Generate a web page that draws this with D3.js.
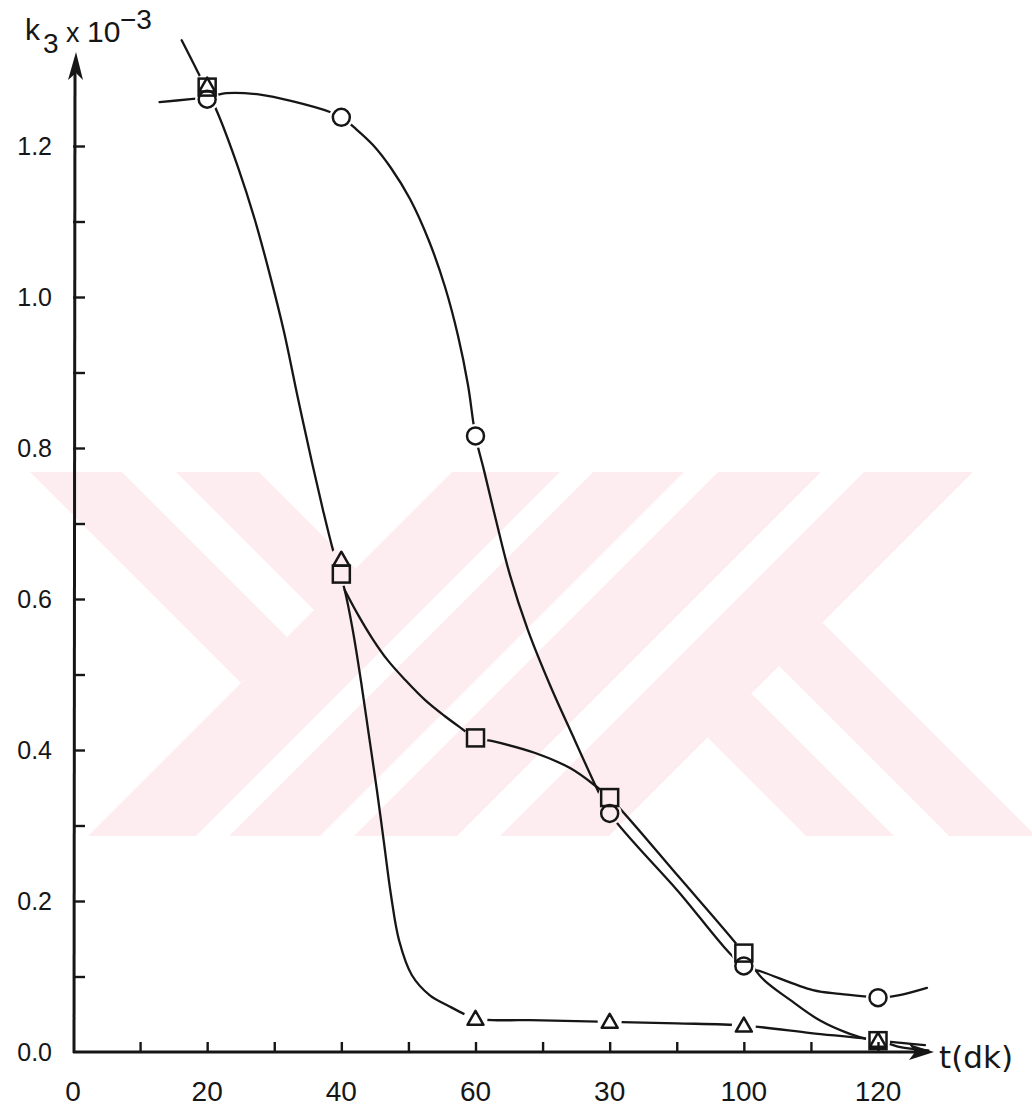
<!DOCTYPE html>
<html>
<head>
<meta charset="utf-8">
<script src="https://cdn.jsdelivr.net/npm/d3@7"></script>
<style>
  body { margin: 0; background: #fff; }
  svg { display: block; }
  text { font-family: "Liberation Sans", Arial, sans-serif; fill: #161616; }
</style>
</head>
<body>
<svg id="chart" width="1032" height="1114"></svg>
<script>
// Sampling times t (dk) and measured k3 (x10^-3) for the three runs
const times = [20, 40, 60, 80, 100, 120];
const circleValues   = [1.262, 1.238, 0.816, 0.316, 0.114, 0.072];
const squareValues   = [1.278, 0.633, 0.416, 0.337, 0.131, 0.015];
const triangleValues = [1.280, 0.652, 0.044, 0.040, 0.035, 0.015];

// Axis ticks and their printed labels
const xTickValues = [0, 20, 40, 60, 80, 100, 120];
const xTickLabels = ["0", "20", "40", "60", "30", "100", "120"];
const yTickValues = [0, 0.2, 0.4, 0.6, 0.8, 1.0, 1.2];
const yTickLabels = ["0.0", "0.2", "0.4", "0.6", "0.8", "1.0", "1.2"];

// Hand-drawn trend curves, traced as [t, k3] pairs
const circleCurve = [
  [12.9, 1.258], [17.5, 1.262], [20, 1.264], [22.9, 1.270], [27.9, 1.268], [32.8, 1.259],
  [38.3, 1.245], [40, 1.238], [42.19, 1.2225], [44.72, 1.2013], [47.40, 1.1709], [50.24, 1.1298],
  [53.07, 1.0742], [55.46, 1.0132], [57.40, 0.9483], [58.88, 0.8834], [60, 0.816], [61.25, 0.771],
  [63.04, 0.705], [65.13, 0.632], [67.8, 0.559], [71.1, 0.486], [74.8, 0.413], [78.2, 0.347],
  [80, 0.316], [90, 0.215], [100, 0.114], [102.8, 0.106], [110.3, 0.082], [114.3, 0.077],
  [118.8, 0.073], [120, 0.072], [123, 0.075], [127.3, 0.085]
];
const triangleCurve = [
  [16.2, 1.340], [18.6, 1.298], [21.5, 1.245], [24.59, 1.172], [27.12, 1.102], [29.36, 1.029],
  [31.45, 0.954], [33.53, 0.866], [35.62, 0.781], [37.26, 0.718], [38.75, 0.665], [40.5, 0.612],
  [41.7, 0.559], [42.9, 0.493], [44.1, 0.420], [45.3, 0.347], [46.3, 0.281], [47.4, 0.208],
  [48.6, 0.148], [50.5, 0.102], [53.2, 0.075], [56.2, 0.060], [58.6, 0.049], [60, 0.044],
  [70, 0.042], [80, 0.040], [90, 0.038], [100, 0.035], [110, 0.025], [120, 0.015],
  [123.5, 0.006], [127.5, 0.002]
];
const squareCurve = [
  [40.5, 0.612], [42.5, 0.579], [44.6, 0.548], [46.9, 0.519], [49.5, 0.493], [52.5, 0.466],
  [55.4, 0.445], [57.7, 0.430], [60, 0.416], [62.4, 0.412], [68.9, 0.396], [74.1, 0.376],
  [78.1, 0.351], [80, 0.337], [90.4, 0.231], [100, 0.131], [102.7, 0.098], [106.9, 0.069],
  [111.3, 0.042], [115.8, 0.024], [118.5, 0.017], [120, 0.015], [123.5, 0.012], [127, 0.009]
];

const ink = "#161616";
const svg = d3.select("#chart");

const x = d3.scaleLinear().domain([0, 120]).range([73, 878]);
const y = d3.scaleLinear().domain([0, 1.2]).range([1052, 146]);

// ---- pale background emblem: 45-degree strips (x - y = d, x + y = s) ----
const emblemBox = [[0, 472], [1032, 472], [1032, 836], [0, 836]];
const emblemStrips = [
  { d: [-442, -350], s: [null, 924] },
  { d: [-296, -213], s: [null, 924] },
  { s: [924, 1032] },
  { s: [1065, 1156] },
  { s: [1190, 1293] },
  { s: [1336, 1445] },
  { d: [-30, 58], s: [1445, null] },
  { d: [113, 200], s: [1445, null] }
];
// keep the part of a convex polygon where a*x + b*y <= c
function clipHalf(poly, a, b, c) {
  const out = [];
  for (let i = 0; i < poly.length; i++) {
    const p = poly[i], q = poly[(i + 1) % poly.length];
    const fp = a * p[0] + b * p[1] - c, fq = a * q[0] + b * q[1] - c;
    if (fp <= 0) out.push(p);
    if ((fp < 0 && fq > 0) || (fp > 0 && fq < 0)) {
      const u = fp / (fp - fq);
      out.push([p[0] + u * (q[0] - p[0]), p[1] + u * (q[1] - p[1])]);
    }
  }
  return out;
}
const emblemPolys = emblemStrips.map(st => {
  let poly = emblemBox.slice();
  if (st.d) {
    if (st.d[0] != null) poly = clipHalf(poly, -1, 1, -st.d[0]);
    if (st.d[1] != null) poly = clipHalf(poly, 1, -1, st.d[1]);
  }
  if (st.s) {
    if (st.s[0] != null) poly = clipHalf(poly, -1, -1, -st.s[0]);
    if (st.s[1] != null) poly = clipHalf(poly, 1, 1, st.s[1]);
  }
  return poly;
});
svg.append("g").selectAll("path").data(emblemPolys).join("path")
  .attr("d", p => "M" + p.map(q => q.join(",")).join("L") + "Z")
  .attr("fill", "#fdedf0");

// ---- axes ----
const gx = svg.append("g").attr("transform", `translate(0,${y(0)})`)
  .call(d3.axisBottom(x).tickValues(d3.range(10, 121, 10)).tickSize(-10).tickSizeOuter(0).tickFormat(""));
gx.select(".domain").remove();
gx.selectAll("line").attr("stroke", ink).attr("stroke-width", 2.4);

const gy = svg.append("g").attr("transform", `translate(${x(0)},0)`)
  .call(d3.axisLeft(y).tickValues(d3.range(1, 13).map(i => i / 10)).tickSize(-12).tickSizeOuter(0).tickFormat(""));
gy.select(".domain").remove();
gy.selectAll("line").attr("stroke", ink).attr("stroke-width", 2.4);

// axis lines with arrowheads
svg.append("line").attr("x1", x(0)).attr("x2", 920).attr("y1", y(0)).attr("y2", y(0))
  .attr("stroke", ink).attr("stroke-width", 3);
svg.append("path").attr("d", `M934,${y(0)}L909,${y(0) - 8}L915,${y(0)}L909,${y(0) + 8}Z`).attr("fill", ink);

svg.append("line").attr("x1", x(0) + 1).attr("x2", x(0) + 2).attr("y1", y(0) + 1).attr("y2", 66)
  .attr("stroke", ink).attr("stroke-width", 3);
svg.append("path").attr("d", `M${x(0) + 3},52L${x(0) - 5},80L${x(0) + 3},73L${x(0) + 10},80Z`).attr("fill", ink);

// tick labels
svg.append("g").selectAll("text").data(xTickValues).join("text")
  .attr("x", d => x(d)).attr("y", 1101).attr("text-anchor", "middle")
  .attr("font-size", 28).text((d, i) => xTickLabels[i]);
svg.append("g").selectAll("text").data(yTickValues).join("text")
  .attr("x", 52).attr("y", d => y(d) + 9).attr("text-anchor", "end")
  .attr("font-size", 25).text((d, i) => yTickLabels[i]);

// axis titles
const yTitle = svg.append("text");
yTitle.append("tspan").attr("x", 25).attr("y", 40).attr("font-size", 30).text("k");
yTitle.append("tspan").attr("x", 43).attr("y", 53).attr("font-size", 28).text("3");
yTitle.append("tspan").attr("x", 66).attr("y", 42).attr("font-size", 27).text("x");
yTitle.append("tspan").attr("x", 87).attr("y", 42).attr("font-size", 30).text("10");
yTitle.append("tspan").attr("x", 120).attr("y", 29).attr("font-size", 28).text("−3");
svg.append("text").attr("x", 939).attr("y", 1068).attr("font-size", 31)
  .style("font-family", "'DejaVu Sans', sans-serif").text("t(dk)");

// ---- curves, broken where they meet the markers ----
const markerPts = [];
times.forEach((t, i) => {
  markerPts.push([x(t), y(circleValues[i])]);
  markerPts.push([x(t), y(squareValues[i])]);
  markerPts.push([x(t), y(triangleValues[i])]);
});
const mask = svg.append("defs").append("mask").attr("id", "marker-gaps")
  .attr("maskUnits", "userSpaceOnUse").attr("x", 0).attr("y", 0).attr("width", 1032).attr("height", 1114);
mask.append("rect").attr("width", 1032).attr("height", 1114).attr("fill", "#fff");
mask.selectAll("circle").data(markerPts).join("circle")
  .attr("cx", d => d[0]).attr("cy", d => d[1]).attr("r", 12).attr("fill", "#000");

const line = d3.line().x(d => x(d[0])).y(d => y(d[1])).curve(d3.curveCatmullRom.alpha(0.5));
svg.append("g").attr("mask", "url(#marker-gaps)")
  .selectAll("path").data([circleCurve, triangleCurve, squareCurve]).join("path")
  .attr("d", line).attr("fill", "none").attr("stroke", ink)
  .attr("stroke-width", 2.3).attr("stroke-linecap", "round").attr("stroke-linejoin", "round");

// ---- markers ----
const gm = svg.append("g").attr("fill", "none").attr("stroke", ink).attr("stroke-width", 2.5);
gm.selectAll("circle").data(times).join("circle")
  .attr("cx", d => x(d)).attr("cy", (d, i) => y(circleValues[i])).attr("r", 8.5);
gm.selectAll("rect").data(times).join("rect")
  .attr("x", d => x(d) - 8.5).attr("y", (d, i) => y(squareValues[i]) - 8.5)
  .attr("width", 17).attr("height", 17);
gm.selectAll("path").data(times).join("path")
  .attr("d", (d, i) => {
    const cx = x(d), cy = y(triangleValues[i]);
    return `M${cx},${cy - 8}L${cx + 8},${cy + 6}L${cx - 8},${cy + 6}Z`;
  })
  .attr("stroke-linejoin", "round");
</script>
</body>
</html>
